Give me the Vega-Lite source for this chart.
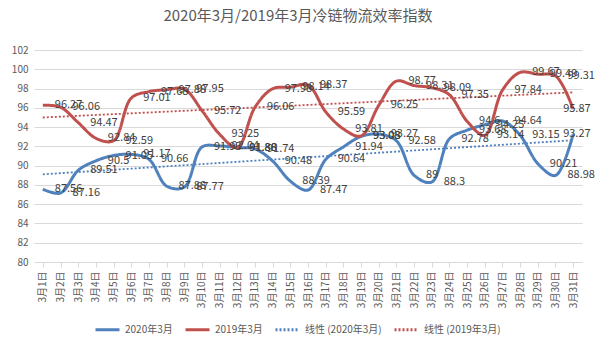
{
  "$schema": "https://vega.github.io/schema/vega-lite/v6.json",
  "autosize": {"type": "none"},
  "padding": {"left": 34, "top": 50, "right": 18, "bottom": 88},
  "width": 548,
  "height": 212,
  "background": "white",
  "title": {
    "text": "2020年3月/2019年3月冷链物流效率指数",
    "fontSize": 15,
    "fontWeight": "normal",
    "color": "#595959",
    "anchor": "middle",
    "dx": -10,
    "offset": 21
  },
  "config": {
    "font": "Noto Sans CJK SC",
    "view": {"stroke": null}
  },
  "data": {
    "values": [
      {"day": 1, "value": 87.56, "series": "2020年3月", "trend": "线性 (2020年3月)"},
      {"day": 2, "value": 87.16, "series": "2020年3月", "trend": "线性 (2020年3月)"},
      {"day": 3, "value": 89.51, "series": "2020年3月", "trend": "线性 (2020年3月)"},
      {"day": 4, "value": 90.5, "series": "2020年3月", "trend": "线性 (2020年3月)"},
      {"day": 5, "value": 91.05, "series": "2020年3月", "trend": "线性 (2020年3月)"},
      {"day": 6, "value": 91.17, "series": "2020年3月", "trend": "线性 (2020年3月)"},
      {"day": 7, "value": 90.66, "series": "2020年3月", "trend": "线性 (2020年3月)"},
      {"day": 8, "value": 87.88, "series": "2020年3月", "trend": "线性 (2020年3月)"},
      {"day": 9, "value": 87.77, "series": "2020年3月", "trend": "线性 (2020年3月)"},
      {"day": 10, "value": 91.93, "series": "2020年3月", "trend": "线性 (2020年3月)"},
      {"day": 11, "value": 92.04, "series": "2020年3月", "trend": "线性 (2020年3月)"},
      {"day": 12, "value": 91.88, "series": "2020年3月", "trend": "线性 (2020年3月)"},
      {"day": 13, "value": 91.74, "series": "2020年3月", "trend": "线性 (2020年3月)"},
      {"day": 14, "value": 90.48, "series": "2020年3月", "trend": "线性 (2020年3月)"},
      {"day": 15, "value": 88.39, "series": "2020年3月", "trend": "线性 (2020年3月)"},
      {"day": 16, "value": 87.47, "series": "2020年3月", "trend": "线性 (2020年3月)"},
      {"day": 17, "value": 90.64, "series": "2020年3月", "trend": "线性 (2020年3月)"},
      {"day": 18, "value": 91.94, "series": "2020年3月", "trend": "线性 (2020年3月)"},
      {"day": 19, "value": 93.03, "series": "2020年3月", "trend": "线性 (2020年3月)"},
      {"day": 20, "value": 93.27, "series": "2020年3月", "trend": "线性 (2020年3月)"},
      {"day": 21, "value": 92.58, "series": "2020年3月", "trend": "线性 (2020年3月)"},
      {"day": 22, "value": 89, "series": "2020年3月", "trend": "线性 (2020年3月)"},
      {"day": 23, "value": 88.3, "series": "2020年3月", "trend": "线性 (2020年3月)"},
      {"day": 24, "value": 92.78, "series": "2020年3月", "trend": "线性 (2020年3月)"},
      {"day": 25, "value": 93.68, "series": "2020年3月", "trend": "线性 (2020年3月)"},
      {"day": 26, "value": 94.25, "series": "2020年3月", "trend": "线性 (2020年3月)"},
      {"day": 27, "value": 94.64, "series": "2020年3月", "trend": "线性 (2020年3月)"},
      {"day": 28, "value": 93.15, "series": "2020年3月", "trend": "线性 (2020年3月)"},
      {"day": 29, "value": 90.21, "series": "2020年3月", "trend": "线性 (2020年3月)"},
      {"day": 30, "value": 88.98, "series": "2020年3月", "trend": "线性 (2020年3月)"},
      {"day": 31, "value": 93.27, "series": "2020年3月", "trend": "线性 (2020年3月)"},
      {"day": 1, "value": 96.27, "series": "2019年3月", "trend": "线性 (2019年3月)"},
      {"day": 2, "value": 96.06, "series": "2019年3月", "trend": "线性 (2019年3月)"},
      {"day": 3, "value": 94.47, "series": "2019年3月", "trend": "线性 (2019年3月)"},
      {"day": 4, "value": 92.84, "series": "2019年3月", "trend": "线性 (2019年3月)"},
      {"day": 5, "value": 92.59, "series": "2019年3月", "trend": "线性 (2019年3月)"},
      {"day": 6, "value": 97.01, "series": "2019年3月", "trend": "线性 (2019年3月)"},
      {"day": 7, "value": 97.68, "series": "2019年3月", "trend": "线性 (2019年3月)"},
      {"day": 8, "value": 97.88, "series": "2019年3月", "trend": "线性 (2019年3月)"},
      {"day": 9, "value": 97.95, "series": "2019年3月", "trend": "线性 (2019年3月)"},
      {"day": 10, "value": 95.72, "series": "2019年3月", "trend": "线性 (2019年3月)"},
      {"day": 11, "value": 93.25, "series": "2019年3月", "trend": "线性 (2019年3月)"},
      {"day": 12, "value": 91.86, "series": "2019年3月", "trend": "线性 (2019年3月)"},
      {"day": 13, "value": 96.06, "series": "2019年3月", "trend": "线性 (2019年3月)"},
      {"day": 14, "value": 97.98, "series": "2019年3月", "trend": "线性 (2019年3月)"},
      {"day": 15, "value": 98.14, "series": "2019年3月", "trend": "线性 (2019年3月)"},
      {"day": 16, "value": 98.37, "series": "2019年3月", "trend": "线性 (2019年3月)"},
      {"day": 17, "value": 95.59, "series": "2019年3月", "trend": "线性 (2019年3月)"},
      {"day": 18, "value": 93.81, "series": "2019年3月", "trend": "线性 (2019年3月)"},
      {"day": 19, "value": 93.08, "series": "2019年3月", "trend": "线性 (2019年3月)"},
      {"day": 20, "value": 96.25, "series": "2019年3月", "trend": "线性 (2019年3月)"},
      {"day": 21, "value": 98.77, "series": "2019年3月", "trend": "线性 (2019年3月)"},
      {"day": 22, "value": 98.31, "series": "2019年3月", "trend": "线性 (2019年3月)"},
      {"day": 23, "value": 98.09, "series": "2019年3月", "trend": "线性 (2019年3月)"},
      {"day": 24, "value": 97.35, "series": "2019年3月", "trend": "线性 (2019年3月)"},
      {"day": 25, "value": 94.6, "series": "2019年3月", "trend": "线性 (2019年3月)"},
      {"day": 26, "value": 93.14, "series": "2019年3月", "trend": "线性 (2019年3月)"},
      {"day": 27, "value": 97.84, "series": "2019年3月", "trend": "线性 (2019年3月)"},
      {"day": 28, "value": 99.67, "series": "2019年3月", "trend": "线性 (2019年3月)"},
      {"day": 29, "value": 99.49, "series": "2019年3月", "trend": "线性 (2019年3月)"},
      {"day": 30, "value": 99.31, "series": "2019年3月", "trend": "线性 (2019年3月)"},
      {"day": 31, "value": 95.87, "series": "2019年3月", "trend": "线性 (2019年3月)"}
    ]
  },
  "encoding": {
    "x": {
      "field": "day",
      "type": "quantitative",
      "scale": {"domain": [0.5, 31.5], "nice": false, "zero": false},
      "axis": {
        "title": null,
        "values": [1,2,3,4,5,6,7,8,9,10,11,12,13,14,15,16,17,18,19,20,21,22,23,24,25,26,27,28,29,30,31],
        "labelExpr": "'3月' + datum.value + '日'",
        "labelAngle": 270,
        "labelAlign": "right",
        "labelBaseline": "middle",
        "labelFontSize": 10,
        "labelColor": "#595959",
        "labelPadding": 4,
        "labelOverlap": false,
        "labelFlush": false,
        "grid": false,
        "domainColor": "#d9d9d9",
        "tickColor": "#d9d9d9",
        "tickSize": 5
      }
    },
    "y": {
      "field": "value",
      "type": "quantitative",
      "scale": {"domain": [80, 102], "nice": false, "zero": false},
      "axis": {
        "title": null,
        "values": [80,82,84,86,88,90,92,94,96,98,100,102],
        "grid": true,
        "gridColor": "#d9d9d9",
        "domain": false,
        "ticks": false,
        "labelFontSize": 10,
        "labelColor": "#595959",
        "labelPadding": 6
      }
    }
  },
  "layer": [
    {
      "mark": {"type": "line", "strokeWidth": 3, "interpolate": "catmull-rom"},
      "encoding": {
        "color": {
          "field": "series",
          "type": "nominal",
          "scale": {
            "domain": ["2020年3月", "2019年3月", "线性 (2020年3月)", "线性 (2019年3月)"],
            "range": ["#4F81BD", "#C0504D", "#4F81BD", "#C0504D"]
          },
          "legend": {
            "title": null,
            "orient": "none",
            "direction": "horizontal",
            "legendX": 60,
            "legendY": 266,
            "symbolType": "stroke",
            "symbolSize": 576,
            "symbolStrokeWidth": 3,
            "labelFontSize": 10,
            "labelColor": "#595959",
            "columnPadding": 6
          }
        },
        "strokeDash": {
          "field": "series",
          "type": "nominal",
          "scale": {
            "domain": ["2020年3月", "2019年3月", "线性 (2020年3月)", "线性 (2019年3月)"],
            "range": [[1, 0], [1, 0], [2, 2], [2, 2]]
          },
          "legend": {
            "title": null,
            "orient": "none",
            "direction": "horizontal",
            "legendX": 60,
            "legendY": 266,
            "symbolType": "stroke",
            "symbolSize": 576,
            "symbolStrokeWidth": 3,
            "labelFontSize": 10,
            "labelColor": "#595959",
            "columnPadding": 6
          }
        }
      }
    },
    {
      "transform": [
        {"regression": "value", "on": "day", "groupby": ["trend"], "extent": [1, 31]}
      ],
      "mark": {"type": "line", "strokeWidth": 1.8},
      "encoding": {
        "color": {"field": "trend", "type": "nominal"},
        "strokeDash": {"field": "trend", "type": "nominal"}
      }
    },
    {
      "transform": [{"filter": "datum.day < 31"}],
      "mark": {"type": "text", "align": "left", "baseline": "middle", "dx": 12, "fontSize": 11, "color": "#404040"},
      "encoding": {"text": {"field": "value", "type": "quantitative"}}
    },
    {
      "transform": [{"filter": "datum.day == 31"}],
      "mark": {"type": "text", "align": "left", "baseline": "middle", "dx": -10, "fontSize": 11, "color": "#404040"},
      "encoding": {"text": {"field": "value", "type": "quantitative"}}
    }
  ]
}
